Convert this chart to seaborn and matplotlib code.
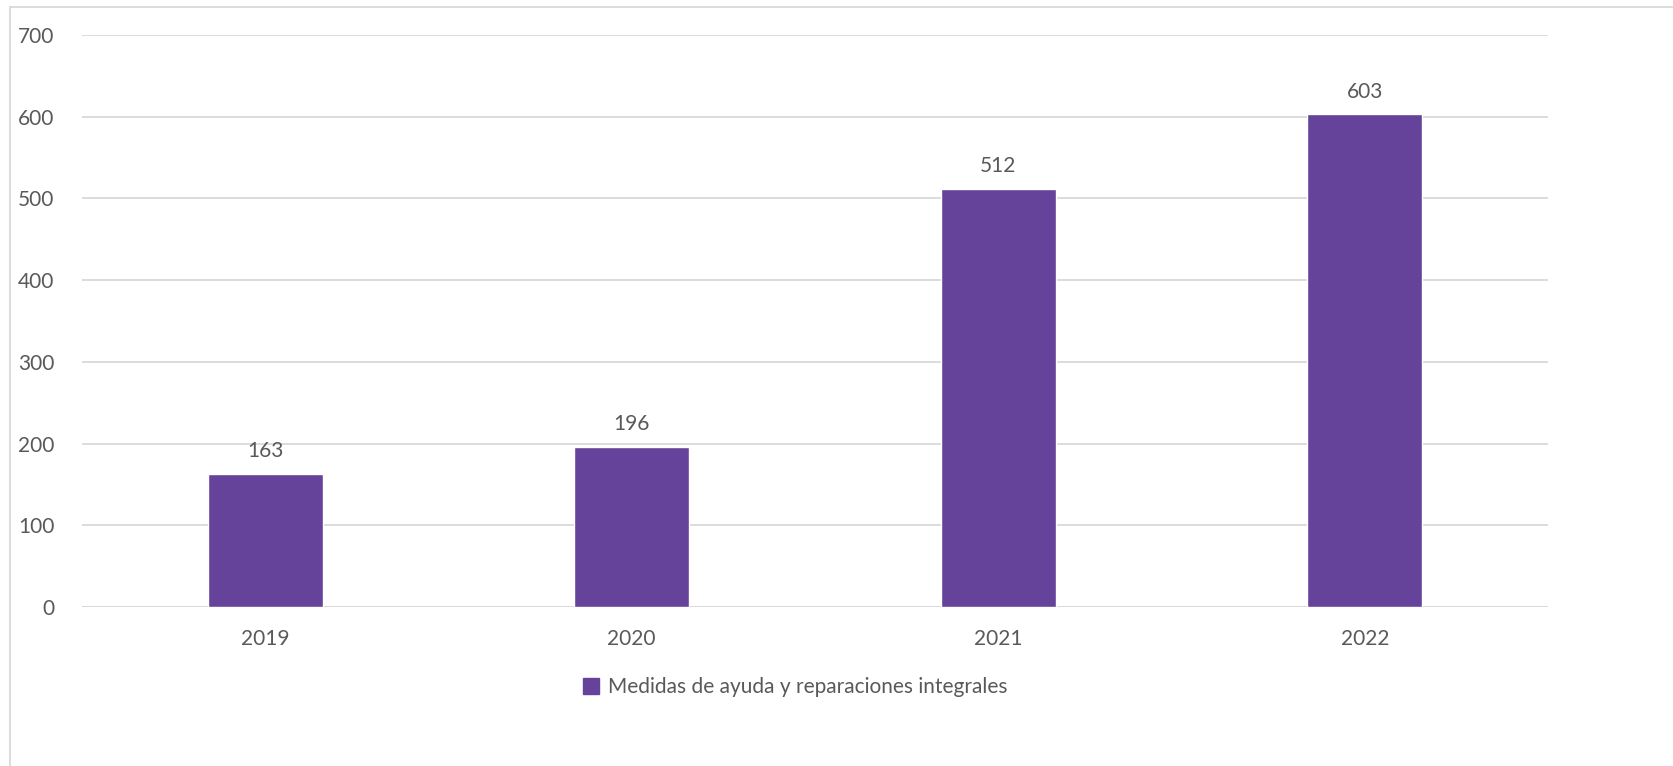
import matplotlib
matplotlib.use("Agg")
import matplotlib.pyplot as plt
import matplotlib.patches as mpatches
import pandas as pd
import seaborn as sns

years = ["2019", "2020", "2021", "2022"]
values = [163, 196, 512, 603]
series_name = "Medidas de ayuda y reparaciones integrales"

BAR = "#65439A"
TXT = "#595959"
GRID = "#D9D9D9"

sns.set_theme(style="white")
plt.rcParams["font.family"] = ["Lato", "DejaVu Sans"]

df = pd.DataFrame({"year": years, "value": values})

W, H = 1673, 766
fig = plt.figure(figsize=(W / 100, H / 100), dpi=100)
ax = fig.add_axes([82 / W, 1 - 607 / H, (1548 - 82) / W, (607 - 35) / H])

sns.barplot(data=df, x="year", y="value", color=BAR, width=0.314,
            saturation=1, ax=ax, zorder=3)

ax.set_ylim(0, 700)
ax.set_xlim(-0.5, 3.5)
ax.set_yticks(range(0, 701, 100))
ax.yaxis.grid(True, color=GRID, linewidth=1.3, zorder=0)
ax.set_axisbelow(True)
for s in ax.spines.values():
    s.set_visible(False)
ax.axhline(0, color=GRID, linewidth=1.3, zorder=1)
ax.tick_params(axis="both", length=0, labelsize=15, labelcolor=TXT)
ax.tick_params(axis="y", pad=20)
ax.tick_params(axis="x", pad=16)
ax.set_xlabel("")
ax.set_ylabel("")

for c in ax.containers:
    ax.bar_label(c, labels=[str(v) for v in values], padding=9,
                 fontsize=15, color=TXT)

handle = mpatches.Patch(color=BAR, label=series_name)
fig.legend(handles=[handle], loc="center", bbox_to_anchor=(795 / W, 1 - 687 / H),
           frameon=False, fontsize=15, labelcolor=TXT, handlelength=0.8,
           handleheight=0.8, handletextpad=0.4)

# outer chart frame
fig.patches.append(mpatches.Rectangle((10 / W, -0.05), 1.2, 1 - 7 / H + 0.05,
                                      transform=fig.transFigure, fill=False,
                                      edgecolor="#D9D9D9", linewidth=1.3))

fig.savefig("out.png", dpi=100)
